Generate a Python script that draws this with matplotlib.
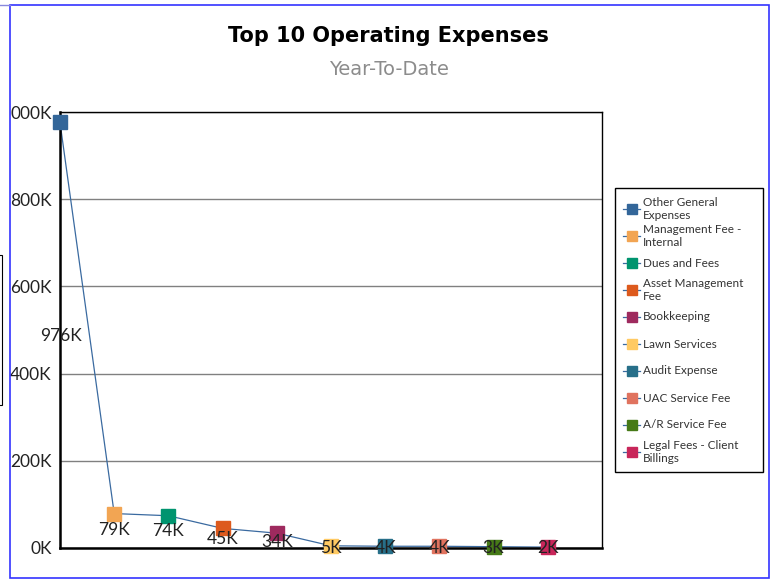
import matplotlib.pyplot as plt
from matplotlib.patches import Rectangle
from matplotlib.lines import Line2D

# Top 10 operating expenses, year-to-date (thousands)
categories = [
    "Other General\nExpenses",
    "Management Fee -\nInternal",
    "Dues and Fees",
    "Asset Management\nFee",
    "Bookkeeping",
    "Lawn Services",
    "Audit Expense",
    "UAC Service Fee",
    "A/R Service Fee",
    "Legal Fees - Client\nBillings",
]
values_k = [976, 79, 74, 45, 34, 5, 4, 4, 3, 2]
tick_values = [0, 200, 400, 600, 800, 1000]
tick_labels = ["0K", "200K", "400K", "600K", "800K", "000K"]

colors = ["#336699", "#F2A553", "#00946F", "#DD5A1D", "#9E2A5E",
          "#FFCA63", "#276F89", "#E0735F", "#467A17", "#C8265A"]
# vertical offset of each data label below its marker (points)
label_drop = [None, 12, 11, 8, 6, 1.5, 1, 1, 1, 0.5]

plt.rcParams["font.family"] = ["Lato", "DejaVu Sans"]

W, H = 773, 580
fig = plt.figure(figsize=(W / 100, H / 100), dpi=100)
ax = fig.add_axes([60 / W, 1 - 548 / H, 542 / W, 436 / H])

x = list(range(len(values_k)))
ax.plot(x, values_k, color="#3A6AA0", lw=0.9, zorder=2, clip_on=False)
for i, (v, c) in enumerate(zip(values_k, colors)):
    ax.plot(i, v, marker="s", ms=9.8, color=c, mec=c, zorder=3, clip_on=False)
    if label_drop[i] is None:
        ax.annotate(f"{v}K", xy=(i, v), xytext=(0.02, 0.486),
                    textcoords=("data", "axes fraction"),
                    ha="center", va="center", fontsize=12.5, color="#222222", zorder=4)
    else:
        ax.annotate(f"{v}K", xy=(i, v), xytext=(0, -label_drop[i]),
                    textcoords="offset points",
                    ha="center", va="center", fontsize=12.5, color="#222222", zorder=4)

ax.set_xlim(0, 10)
ax.set_ylim(0, 1000)
ax.set_xticks([])
ax.set_yticks(tick_values)
ax.set_yticklabels(tick_labels, fontsize=12.5, color="#222222")
ax.tick_params(axis="y", length=0, pad=6)
ax.yaxis.grid(True, color="#808080", lw=1)
ax.set_axisbelow(True)
for side in ["top", "right"]:
    ax.spines[side].set_linewidth(1.0)
for side in ["left", "bottom"]:
    ax.spines[side].set_linewidth(1.8)

# legend box, entries evenly spaced and vertically centred on their keys
fig.add_artist(Rectangle((615 / W, 1 - 472 / H), 148 / W, 284 / H,
                         transform=fig.transFigure, fill=True, facecolor="white",
                         edgecolor="black", lw=1.0))
for i, (name, c) in enumerate(zip(categories, colors)):
    yc = 1 - (209 + 27 * i) / H
    fig.add_artist(Line2D([623 / W, 640 / W], [yc, yc], transform=fig.transFigure,
                          color="#3A6AA0", lw=0.9))
    fig.add_artist(Line2D([631.5 / W], [yc], transform=fig.transFigure,
                          marker="s", ms=7.2, color=c, mec=c))
    fig.text(643 / W, yc, name, ha="left", va="center", fontsize=8.5,
             color="#333333", linespacing=1.3)

fig.text(0.503, 0.938, "Top 10 Operating Expenses", ha="center", va="center",
         fontsize=15, fontweight="bold", color="black", family="DejaVu Sans")
fig.text(0.503, 0.881, "Year-To-Date", ha="center", va="center",
         fontsize=14, color="#8C8C8C", family="DejaVu Sans")

# outer frame
fig.add_artist(Rectangle((10 / W, 2 / H), 759 / W, 573 / H,
                         transform=fig.transFigure, fill=False,
                         edgecolor="#3333FF", lw=1.2))
fig.add_artist(Line2D([0, 10 / W], [575 / H, 575 / H],
                      transform=fig.transFigure, color="#8888DD", lw=1))
fig.add_artist(Rectangle((-0.01, 175 / H), 0.0125, 150 / H,
                         transform=fig.transFigure, fill=False,
                         edgecolor="black", lw=0.8))

fig.savefig("out.png", dpi=100)
